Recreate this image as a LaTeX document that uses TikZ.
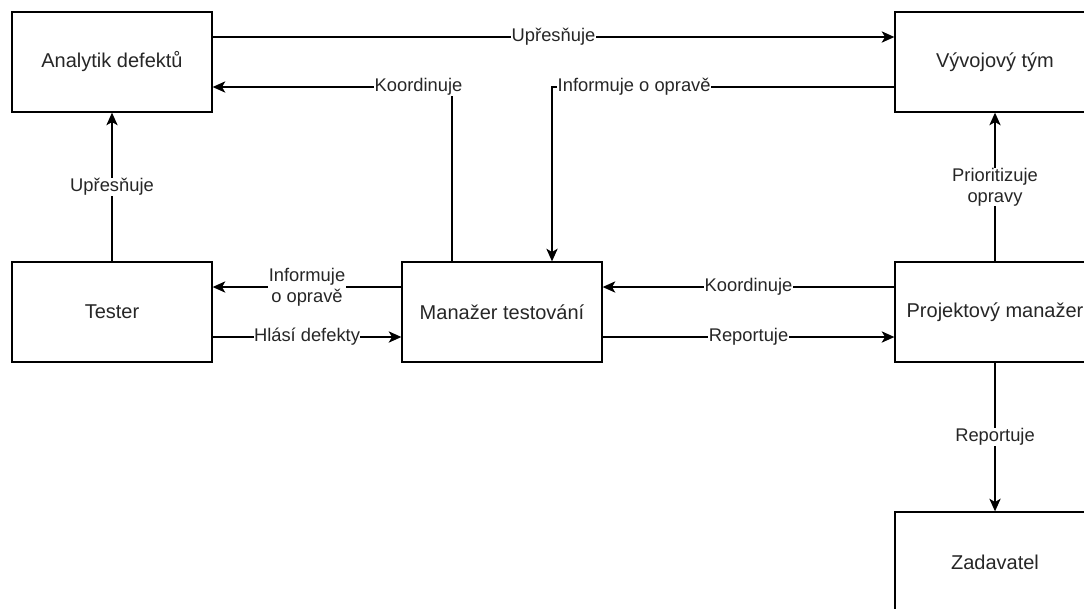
\documentclass[tikz,border=0pt]{standalone}
\usepackage{fontspec}
\setmainfont{Liberation Sans}
\usetikzlibrary{arrows.meta}
\begin{document}
\begin{tikzpicture}[x=0.75pt,y=-0.75pt,
  box/.style={draw, line width=1pt, minimum width=150pt, minimum height=75pt, inner sep=0pt, font=\fontsize{15}{17}\selectfont, text=black!85},
  conn/.style={draw, line width=0.9pt, -{Stealth[length=9.5pt,width=8.5pt,inset=2.5pt]}},
  lab/.style={fill=white, inner sep=0.3pt, font=\fontsize{13.75}{15.5}\selectfont, text=black!85, align=center}]
\useasboundingbox (0,0) rectangle (1084,608);
\clip (0,0) rectangle (1084,608);
\node[box] (A) at (112,62) {Analytik defektů};
\node[box] (V) at (995,62) {Vývojový tým};
\node[box] (T) at (112,312) {Tester};
\node[box] (M) at (502,312) {Manažer testování};
\node[box] (P) at (995,312) {Projektový manažer};
\node[box] (Z) at (995,562) {Zadavatel};
% A -> V
\draw[conn] (A.east |- 0,37) -- node[lab, pos=0.5] {Upřesňuje} (V.west |- 0,37);
% M -> A
\coordinate (mk) at (452,87);
\draw[conn] (M.north -| mk) -- (mk) -- node[lab, pos=0.14] {Koordinuje} (A.east |- mk);
% V -> M
\coordinate (vi) at (552,87);
\draw[conn] (V.west |- vi) -- node[lab, pos=0.76] {Informuje o opravě} (vi) -- (M.north -| vi);
% T -> A
\draw[conn] (T.north) -- node[lab] {Upřesňuje} (A.south);
% M -> T
\draw[conn] (M.west |- 0,287) -- node[lab] {Informuje\\o opravě} (T.east |- 0,287);
% T -> M
\draw[conn] (T.east |- 0,337) -- node[lab] {Hlásí defekty} (M.west |- 0,337);
% P -> M
\draw[conn] (P.west |- 0,287) -- node[lab] {Koordinuje} (M.east |- 0,287);
% M -> P
\draw[conn] (M.east |- 0,337) -- node[lab] {Reportuje} (P.west |- 0,337);
% P -> V
\draw[conn] (P.north) -- node[lab] {Prioritizuje\\opravy} (V.south);
% P -> Z
\draw[conn] (P.south) -- node[lab] {Reportuje} (Z.north);
\end{tikzpicture}
\end{document}
